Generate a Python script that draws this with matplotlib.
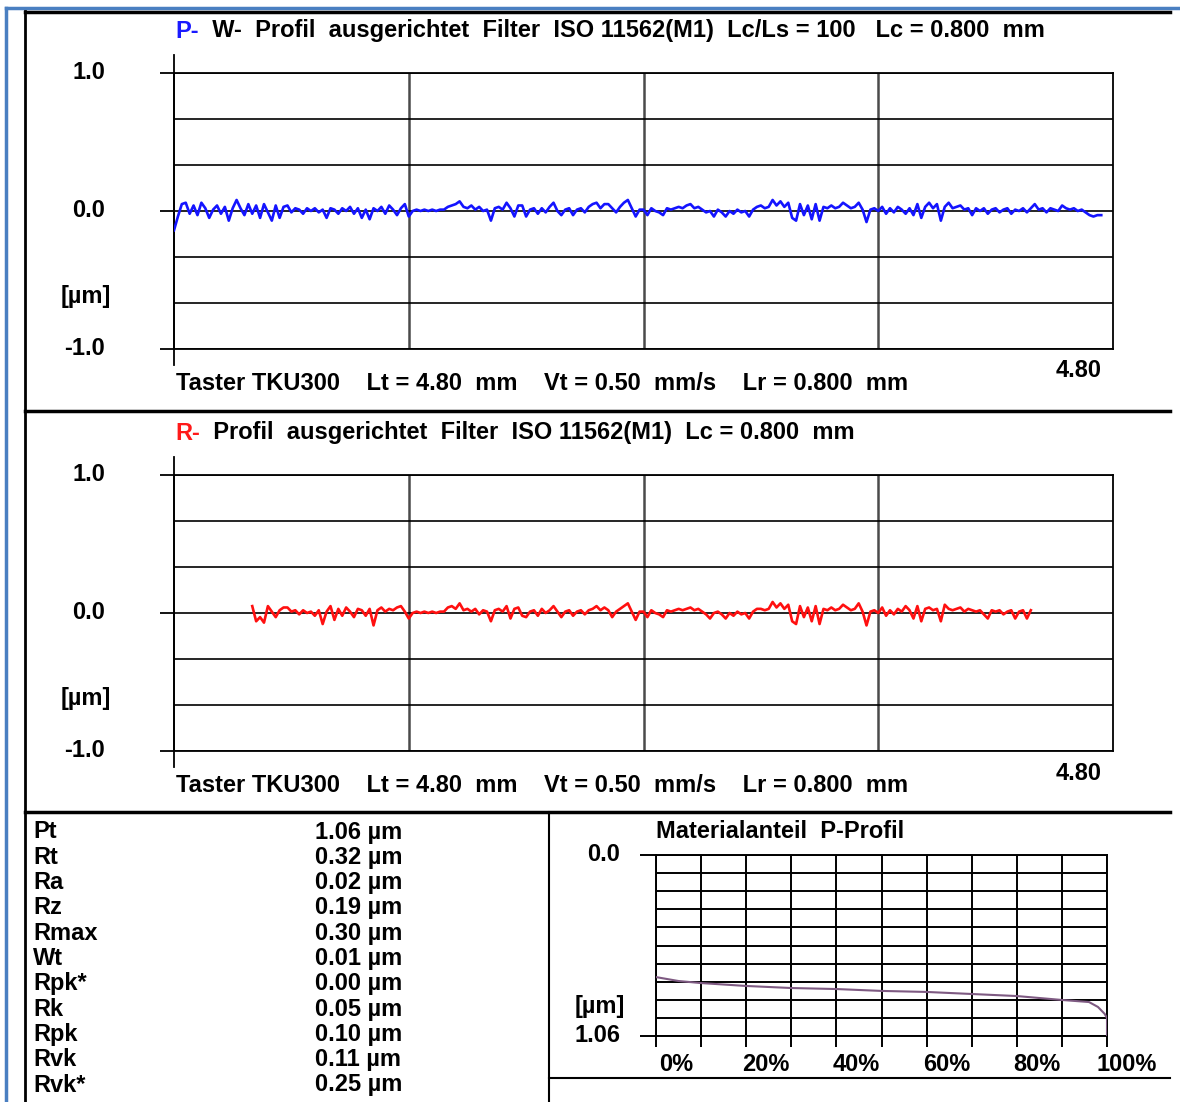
import numpy as np
import matplotlib
matplotlib.use('Agg')
import matplotlib.pyplot as plt
from matplotlib.lines import Line2D
from matplotlib.transforms import ScaledTranslation

plt.rcParams['font.family'] = ['Liberation Sans', 'DejaVu Sans']
plt.rcParams['font.weight'] = 'bold'

W, H, DPI = 1180, 1102, 100

# ---------------- data ----------------
trace_length_mm = 4.80
profile_step_mm = 0.02
p_start_mm = 0.00
p_profile_um = [
    -0.14, -0.04, 0.05, 0.06, -0.02, 0.04, -0.03, 0.06, 0.02, -0.05,
    0.01, 0.04, -0.02, 0.03, -0.07, 0.02, 0.08, 0.02, -0.03, 0.05,
    -0.02, 0.04, -0.05, 0.05, -0.01, -0.07, 0.04, -0.05, 0.03, 0.04,
    -0.01, 0.02, 0.01, -0.02, 0.02, 0.00, 0.02, -0.01, 0.01, -0.05,
    0.02, 0.01, -0.02, 0.02, 0.00, 0.03, -0.02, 0.02, -0.05, 0.01,
    -0.06, 0.02, 0.00, 0.03, -0.02, 0.04, 0.01, -0.03, 0.02, 0.05,
    -0.04, 0.00, 0.01, 0.00, 0.01, 0.00, 0.01, 0.00, 0.01, 0.01,
    0.03, 0.04, 0.05, 0.07, 0.03, 0.02, 0.04, 0.01, 0.03, 0.00,
    0.01, -0.07, 0.02, 0.03, 0.01, 0.06, 0.02, -0.04, 0.04, 0.04,
    -0.04, 0.01, 0.02, -0.02, 0.02, -0.01, 0.03, 0.06, 0.00, -0.03,
    0.01, 0.02, -0.03, 0.01, 0.02, -0.01, 0.03, 0.05, 0.06, 0.02,
    0.05, 0.05, 0.02, -0.01, 0.03, 0.06, 0.08, 0.02, -0.04, 0.01,
    0.01, -0.03, 0.02, 0.00, -0.01, -0.03, 0.02, 0.01, 0.02, 0.03,
    0.02, 0.04, 0.05, 0.02, 0.03, 0.01, -0.01, 0.00, -0.04, 0.01,
    -0.01, -0.04, 0.00, -0.02, 0.01, -0.01, 0.00, -0.04, 0.01, 0.03,
    0.04, 0.02, 0.03, 0.08, 0.04, 0.07, 0.03, 0.06, -0.05, -0.07,
    0.05, -0.03, 0.04, -0.06, 0.05, -0.07, 0.03, 0.02, 0.04, 0.02,
    0.03, 0.06, 0.04, 0.02, 0.03, 0.06, 0.01, -0.08, 0.01, 0.02,
    0.00, 0.03, -0.02, 0.02, -0.01, 0.03, 0.01, -0.02, 0.02, -0.03,
    0.05, -0.05, 0.03, 0.06, 0.02, 0.05, -0.07, 0.03, 0.06, 0.02,
    0.03, 0.04, 0.01, 0.02, -0.03, 0.02, 0.00, 0.02, -0.02, 0.01,
    0.02, -0.01, 0.01, 0.02, -0.02, 0.01, 0.00, 0.02, -0.01, 0.02,
    0.05, 0.01, 0.02, -0.01, 0.02, 0.01, 0.00, 0.04, 0.02, 0.01,
    0.02, 0.00, 0.01, -0.01, -0.03, -0.04, -0.03, -0.03,
]
r_start_mm = 0.40
r_profile_um = [
    0.05, -0.06, -0.03, -0.07, 0.05, 0.01, -0.03, 0.02, 0.04, 0.04,
    0.01, 0.02, -0.01, 0.02, 0.00, 0.01, -0.02, 0.02, -0.08, 0.01,
    0.05, -0.05, 0.03, -0.02, 0.04, 0.01, -0.03, 0.03, 0.02, -0.02,
    0.03, -0.09, 0.02, 0.04, 0.01, 0.03, 0.02, 0.04, 0.05, 0.01,
    -0.04, 0.00, 0.01, 0.00, 0.01, 0.00, 0.01, 0.00, 0.01, 0.01,
    0.04, 0.05, 0.03, 0.07, 0.02, 0.03, 0.01, 0.03, -0.01, 0.02,
    0.01, -0.06, 0.02, 0.03, 0.01, 0.05, -0.04, 0.03, 0.04, -0.02,
    -0.03, 0.01, 0.02, -0.02, 0.03, 0.00, 0.02, 0.05, 0.01, -0.03,
    0.01, 0.02, -0.02, 0.01, 0.02, -0.01, 0.02, 0.03, 0.05, 0.02,
    0.04, 0.02, -0.03, 0.01, 0.03, 0.05, 0.07, 0.01, -0.05, 0.01,
    0.01, -0.03, 0.02, 0.00, -0.01, -0.03, 0.02, 0.01, 0.02, 0.03,
    0.02, 0.03, 0.04, 0.02, 0.03, 0.01, -0.01, -0.04, 0.00, 0.01,
    -0.01, -0.04, 0.00, -0.02, 0.01, -0.01, 0.00, -0.04, 0.01, 0.03,
    0.03, 0.02, 0.03, 0.08, 0.04, 0.07, 0.03, 0.06, -0.06, -0.08,
    0.05, -0.03, 0.04, -0.06, 0.05, -0.08, 0.03, 0.02, 0.04, 0.02,
    0.03, 0.06, 0.04, 0.02, 0.03, 0.07, 0.01, -0.09, 0.01, 0.02,
    0.00, 0.04, -0.02, 0.02, -0.01, 0.03, 0.01, 0.05, 0.02, -0.04,
    0.05, -0.06, 0.03, 0.04, 0.02, 0.03, -0.06, 0.06, 0.03, 0.02,
    0.03, 0.04, 0.01, 0.03, 0.02, 0.01, 0.02, -0.01, -0.04, 0.02,
    0.01, 0.02, -0.01, 0.01, 0.02, -0.04, 0.01, 0.02, -0.04, 0.02,
]
profile_y_ticks = [-1.0, 0.0, 1.0]
profile_y_labels = ['-1.0', '0.0', '1.0']
profile_end_label = '4.80'

p_title_tag = 'P-'
p_title_rest = '  W-  Profil  ausgerichtet  Filter  ISO 11562(M1)  Lc/Ls = 100   Lc = 0.800  mm'
r_title_tag = 'R-'
r_title_rest = '  Profil  ausgerichtet  Filter  ISO 11562(M1)  Lc = 0.800  mm'
info_line = 'Taster TKU300    Lt = 4.80  mm    Vt = 0.50  mm/s    Lr = 0.800  mm'

param_names = ['Pt', 'Rt', 'Ra', 'Rz', 'Rmax', 'Wt', 'Rpk*', 'Rk', 'Rpk', 'Rvk', 'Rvk*']
param_values = [1.06, 0.32, 0.02, 0.19, 0.30, 0.01, 0.00, 0.05, 0.10, 0.11, 0.25]
param_unit = 'µm'

mr_title = 'Materialanteil  P-Profil'
mr_percent = [0, 5, 10, 20, 30, 40, 50, 60, 70, 80, 90, 96, 98, 99.5, 100, 100]
mr_depth_um = [0.715, 0.738, 0.750, 0.767, 0.779, 0.785, 0.796, 0.802, 0.814, 0.826,
               0.849, 0.861, 0.890, 0.931, 0.955, 1.06]
mr_depth_max = 1.06
mr_y_ticks = [0.0, 1.06]
mr_y_labels = ['0.0', '1.06']
mr_x_ticks = [0, 10, 20, 30, 40, 50, 60, 70, 80, 90, 100]
mr_x_labels = ['0%', '', '20%', '', '40%', '', '60%', '', '80%', '', '100%']

# ---------------- helpers ----------------
FS = 17
fig = plt.figure(figsize=(W / DPI, H / DPI), dpi=DPI)


def rect(x0, y0, x1, y1):
    return [x0 / W, 1 - y1 / H, (x1 - x0) / W, (y1 - y0) / H]


def hline(x0, x1, y, lw=2.0, color='black'):
    fig.add_artist(Line2D([x0 / W, x1 / W], [1 - y / H, 1 - y / H], lw=lw, color=color,
                          transform=fig.transFigure))


def vline(x, y0, y1, lw=2.0, color='black'):
    fig.add_artist(Line2D([x / W, x / W], [1 - y0 / H, 1 - y1 / H], lw=lw, color=color,
                          transform=fig.transFigure))


def ftext(x, yc, s, ha='left', color='black', fs=FS):
    # yc = visual centre of capitals in pixels
    return fig.text(x / W, 1 - (yc + 0.36 * fs * DPI / 72) / H, s, ha=ha, va='baseline',
                    color=color, fontsize=fs, fontweight='bold')


def shift_labels(labels, dx_px, dy_px):
    for lab in labels:
        lab.set_transform(lab.get_transform() +
                          ScaledTranslation(dx_px / DPI, dy_px / DPI, fig.dpi_scale_trans))


def profile_panel(top, x, y, color, tag, tag_color, rest):
    ax = fig.add_axes(rect(174, top, 1113, top + 276))
    ax.plot(x, y, color=color, lw=1.9, zorder=3)
    ax.set_xlim(0, trace_length_mm)
    ax.set_ylim(-1, 1)
    ax.set_yticks(profile_y_ticks, profile_y_labels, fontsize=FS, fontweight='bold')
    ax.set_yticks(np.linspace(-1, 1, 7), minor=True)
    ax.set_xticks([])
    ax.set_xticks(np.linspace(0, trace_length_mm, 5)[1:-1], minor=True)
    ax.tick_params(axis='y', which='major', length=10.1, width=1.3, pad=39.6)
    ax.tick_params(which='minor', length=0)
    ax.grid(axis='y', which='both', color='black', lw=1.2)
    ax.grid(axis='x', which='minor', color='#4a4a4a', lw=1.8)
    for s in ax.spines.values():
        s.set_linewidth(1.3)
    shift_labels(ax.get_yticklabels(), 0, 3)
    ax.plot([0, 0], [-16 / 276, 1 + 18 / 276], transform=ax.transAxes, color='black',
            lw=1.3, clip_on=False)
    # title
    t = ftext(175, top - 44, tag, color=tag_color)
    ax.annotate(rest, xy=(1, 0), xycoords=t, va='bottom', ha='left', fontsize=FS,
                fontweight='bold', color='black')
    ftext(86, top + 222, '[µm]', ha='center')
    ftext(1102, top + 296, profile_end_label, ha='right')
    ftext(176, top + 308, info_line)
    return ax


# ---------------- frame lines ----------------
hline(6, 1180, 8, lw=2.5, color='#4a7fc1')
vline(6, 8, 1102, lw=2.5, color='#4a7fc1')
hline(25, 1170, 11.5, lw=2.5)
vline(25, 11, 1102, lw=2.0)
hline(25, 1170, 411, lw=2.5)
hline(25, 1170, 812, lw=2.5)
vline(549, 812, 1102, lw=1.5)
hline(549, 1170, 1078, lw=1.5)

# ---------------- profile panels ----------------
p_x = p_start_mm + profile_step_mm * np.arange(len(p_profile_um))
r_x = r_start_mm + profile_step_mm * np.arange(len(r_profile_um))
profile_panel(73, p_x, p_profile_um, '#1414ff', p_title_tag, '#1a1aff', p_title_rest)
profile_panel(475, r_x, r_profile_um, '#ff1010', r_title_tag, '#ff1a1a', r_title_rest)

# ---------------- parameter table ----------------
for i, (n, v) in enumerate(zip(param_names, param_values)):
    yc = 830 + i * 25.3
    ftext(33, yc, n)
    ftext(315, yc, f'{v:.2f} {param_unit}')

# ---------------- material ratio chart ----------------
mx = fig.add_axes(rect(656, 855, 1107, 1036))
mx.plot(mr_percent, mr_depth_um, color='#7e5a82', lw=1.5, zorder=3)
mx.set_xlim(0, 100)
mx.set_ylim(mr_depth_max, 0)
mx.set_xticks(mr_x_ticks, mr_x_labels, fontsize=FS, fontweight='bold')
mx.set_yticks(mr_y_ticks, mr_y_labels, fontsize=FS, fontweight='bold')
mx.set_yticks(np.linspace(0, mr_depth_max, 11), minor=True)
mx.tick_params(axis='x', which='major', length=8, width=1.4, pad=4)
mx.tick_params(axis='y', which='major', length=11.5, width=1.4, pad=14.4)
mx.tick_params(which='minor', length=0)
mx.grid(which='both', color='black', lw=1.4)
for s in mx.spines.values():
    s.set_linewidth(1.4)
shift_labels(mx.get_xticklabels(), 20, 0)
shift_labels(mx.get_yticklabels(), 0, 3)
ftext(656, 830, mr_title)
ftext(600, 1005, '[µm]', ha='center')

fig.savefig('out.png', dpi=DPI)
